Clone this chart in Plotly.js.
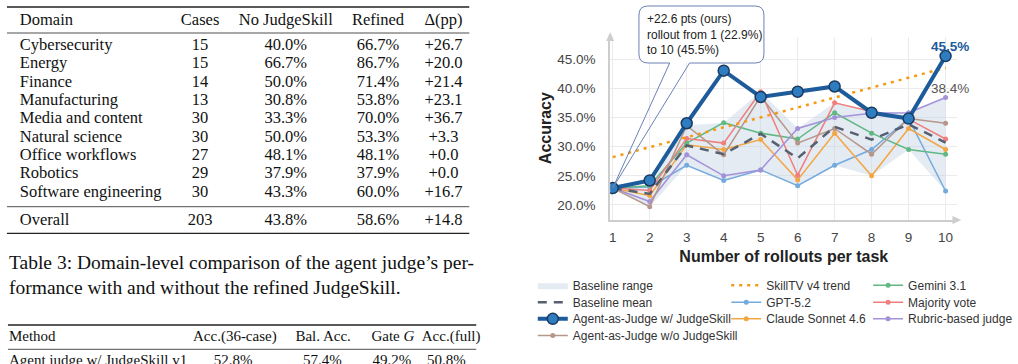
<!DOCTYPE html>
<html>
<head>
<meta charset="utf-8">
<script src="https://cdn.plot.ly/plotly-3.0.1.min.js"></script>
<style>
  html, body { margin: 0; padding: 0; background: #fff; }
  #fig { width: 1018px; height: 364px; }
</style>
</head>
<body>
<div id="fig"></div>
<script>
// ---- 차트 데이터 ----
const rollouts = [1, 2, 3, 4, 5, 6, 7, 8, 9, 10];
const oursAcc     = [22.9, 24.2, 34.0, 43.0, 38.5, 39.4, 40.3, 35.8, 34.8, 45.5];
const noSkillAcc  = [22.9, 19.7, 33.6, 28.6, 38.6, 30.6, 33.1, 28.7, 34.8, 34.0];
const gptAcc      = [22.9, 23.1, 26.8, 24.2, 26.0, 23.3, 26.8, 29.5, 34.8, 22.4];
const claudeAcc   = [22.9, 21.6, 30.3, 29.5, 31.2, 24.3, 32.3, 25.0, 33.1, 29.5];
const geminiAcc   = [22.9, 23.3, 30.6, 34.1, 32.3, 31.3, 35.8, 32.3, 29.5, 28.7];
const majorityAcc = [22.9, 22.5, 31.4, 30.6, 39.4, 25.1, 37.5, 36.0, 34.7, 31.3];
const rubricAcc   = [22.9, 20.6, 28.6, 25.0, 26.0, 33.1, 35.0, 35.7, 35.8, 38.4];
const baselineMean = [22.9, 21.9, 30.2, 28.7, 32.2, 28.0, 33.4, 31.2, 33.8, 30.7];
const baselineLow  = [22.9, 19.7, 26.8, 24.2, 26.0, 23.3, 26.8, 25.0, 29.5, 22.4];
const baselineHigh = [22.9, 23.3, 33.6, 34.1, 39.4, 33.1, 37.5, 36.0, 35.8, 38.4];
const trendX   = [1, 10];
const trendAcc = [28.2, 43.5];
const yTicks = [20, 25, 30, 35, 40, 45];

// ---- 표 데이터 ----
const table1Headers = ['Domain', 'Cases', 'No JudgeSkill', 'Refined', 'Δ(pp)'];
const domainNames = ['Cybersecurity', 'Energy', 'Finance', 'Manufacturing', 'Media and content',
  'Natural science', 'Office workflows', 'Robotics', 'Software engineering'];
const domainCases   = [15, 15, 14, 13, 30, 30, 27, 29, 30];
const domainNoSkill = [40.0, 66.7, 50.0, 30.8, 33.3, 50.0, 48.1, 37.9, 43.3];
const domainRefined = [66.7, 86.7, 71.4, 53.8, 70.0, 53.3, 48.1, 37.9, 60.0];
const domainDelta   = [26.7, 20.0, 21.4, 23.1, 36.7, 3.3, 0.0, 0.0, 16.7];
const overallRow = ['Overall', 203, 43.8, 58.6, 14.8];
const captionLines = ['Table 3: Domain-level comparison of the agent judge’s per-',
  'formance with and without the refined JudgeSkill.'];
const table2Headers = ['Method', 'Acc.(36-case)', 'Bal. Acc.', 'Gate <i>G</i>', 'Acc.(full)'];
const table2Row = ['Agent judge w/ JudgeSkill v1', 52.8, 57.4, 49.2, 50.8];

// ---- 레이아웃 상수 (픽셀) ----
const W = 1018, H = 364;
const xDom = [615 / W, 965 / W];
const yDom = [1 - 220 / H, 1 - 37 / H];
const xRange = [0.93, 10.32];
const yRange = [17.43, 48.77];
const sans = 'Liberation Sans, Arial, sans-serif';
const serif = 'Liberation Serif, Times New Roman, serif';

const pct = v => v.toFixed(1) + '%';
const px = x => x / W;
const py = y => 1 - y / H;

// 범례 칸: 항목마다 별도 범례 (열 x, 행 중심 y)
const legendCols = [537, 732, 875];
const legendRows = [285.7, 302.7, 319.3, 336];
const legendSlots = {};
let legendCount = 0;
function slot(col, row) {
  legendCount += 1;
  const id = legendCount === 1 ? 'legend' : 'legend' + legendCount;
  legendSlots[id] = { x: legendCols[col], y: legendRows[row] };
  return id;
}

// 보조 선 (기준선들)
const baseLine = (name, y, color, legend) => ({
  x: rollouts, y: y, type: 'scatter', mode: 'lines+markers', name: name,
  line: { color: color, width: 1.5 },
  marker: { color: color, size: 5 },
  legend: legend
});

const chartTraces = [
  { x: rollouts, y: baselineLow, type: 'scatter', mode: 'lines', line: { width: 0 },
    showlegend: false, hoverinfo: 'skip' },
  { x: rollouts, y: baselineHigh, type: 'scatter', mode: 'lines', fill: 'tonexty',
    fillcolor: 'rgba(196,210,228,0.45)', line: { width: 0 }, name: 'Baseline range',
    legend: slot(0, 0) },
  baseLine('GPT-5.2', gptAcc, '#74aade', slot(1, 1)),
  baseLine('Claude Sonnet 4.6', claudeAcc, '#f3a744', slot(1, 2)),
  baseLine('Gemini 3.1', geminiAcc, '#62b884', slot(2, 0)),
  baseLine('Majority vote', majorityAcc, '#ee7f7c', slot(2, 1)),
  baseLine('Rubric-based judge', rubricAcc, '#a392d8', slot(2, 2)),
  baseLine('Agent-as-Judge w/o JudgeSkill', noSkillAcc, '#b6968a', slot(0, 3)),
  { x: rollouts, y: baselineMean, type: 'scatter', mode: 'lines', name: 'Baseline mean',
    line: { color: '#576070', width: 2.5, dash: '9px,7px' }, legend: slot(0, 1) },
  { x: trendX, y: trendAcc, type: 'scatter', mode: 'lines', name: 'SkillTV v4 trend',
    line: { color: '#f59a12', width: 2.5, dash: '3px,5px' }, legend: slot(1, 0) },
  { x: rollouts, y: oursAcc, type: 'scatter', mode: 'lines+markers', name: 'Agent-as-Judge w/ JudgeSkill',
    line: { color: '#1d5b9b', width: 4 },
    marker: { color: '#2f7dc1', size: 11, line: { color: '#1a3a60', width: 1.5 } },
    legend: slot(0, 2) }
];

// ---- 표를 텍스트 트레이스로 ----
const tableTraces = [];
function textRow(xs, y, texts, aligns, size) {
  texts.forEach((t, i) => {
    tableTraces.push({
      x: [xs[i]], y: [y], text: [t], type: 'scatter', mode: 'text',
      xaxis: 'x2', yaxis: 'y2', showlegend: false, hoverinfo: 'skip', cliponaxis: true,
      textposition: aligns[i] === 'l' ? 'middle right' : 'middle center',
      textfont: { family: serif, size: size, color: '#111' }
    });
  });
}
const t1Cols = [20, 201.7, 288, 381, 447];
const t1Align = ['l', 'c', 'c', 'c', 'c'];
textRow(t1Cols, 20.7, table1Headers, t1Align, 16.5);
domainNames.forEach((d, i) => {
  textRow(t1Cols, 45.7 + i * 18.375,
    [d, String(domainCases[i]), pct(domainNoSkill[i]), pct(domainRefined[i]), '+' + domainDelta[i].toFixed(1)],
    t1Align, 16.5);
});
textRow(t1Cols, 220.5, [overallRow[0], String(overallRow[1]), pct(overallRow[2]), pct(overallRow[3]),
  '+' + overallRow[4].toFixed(1)], t1Align, 16.5);

const t2Cols = [9, 236.7, 325.7, 396, 454.7];
const t2Align = ['l', 'c', 'c', 'c', 'c'];
textRow(t2Cols, 337.7, table2Headers, t2Align, 15);
textRow([9, 235, 325, 395, 450], 361.7,
  [table2Row[0], pct(table2Row[1]), pct(table2Row[2]), pct(table2Row[3]), pct(table2Row[4])], t2Align, 15);

const rule = (y, x0, x1, w) => ({
  type: 'line', xref: 'x2', yref: 'y2', x0: x0, x1: x1, y0: y, y1: y,
  line: { color: '#222', width: w }
});

// ---- 말풍선 (꼬리 끝은 첫 번째 데이터 점) ----
const tipX = xDom[0] + (rollouts[0] - xRange[0]) / (xRange[1] - xRange[0]) * (xDom[1] - xDom[0]);
const tipY = yDom[0] + (oursAcc[0] - yRange[0]) / (yRange[1] - yRange[0]) * (yDom[1] - yDom[0]);
const bx0 = 644, bx1 = 770, by0 = 6, by1 = 63, br = 9, tail0 = 675, tail1 = 695;
const P = (x, y) => px(x) + ',' + py(y);
const bubblePath = 'M' + P(tail1, by1) + ' L' + P(bx1 - br, by1) + ' Q' + P(bx1, by1) + ' ' + P(bx1, by1 - br) +
  ' L' + P(bx1, by0 + br) + ' Q' + P(bx1, by0) + ' ' + P(bx1 - br, by0) +
  ' L' + P(bx0 + br, by0) + ' Q' + P(bx0, by0) + ' ' + P(bx0, by0 + br) +
  ' L' + P(bx0, by1 - br) + ' Q' + P(bx0, by1) + ' ' + P(bx0 + br, by1) + ' L' + P(tail0, by1);
const tailPath = 'M' + P(tail0, by1) + ' L' + tipX + ',' + tipY + ' L' + P(tail1, by1);
const gain = (oursAcc[oursAcc.length - 1] - oursAcc[0]).toFixed(1);

const shapes = [
  rule(7, 7, 473, 1.3), rule(33, 7, 473, 0.8), rule(206.7, 7, 473, 0.8), rule(233.3, 7, 473, 1.3),
  rule(325, 8, 480, 1.3), rule(349.3, 8, 480, 0.8),
  { type: 'path', xref: 'paper', yref: 'paper', path: bubblePath, fillcolor: '#fff',
    line: { color: '#6b82b6', width: 1 }, layer: 'above' },
  { type: 'path', xref: 'paper', yref: 'paper', path: tailPath, fillcolor: 'rgba(0,0,0,0)',
    line: { color: '#6b82b6', width: 1 }, layer: 'above' },
  // 축 화살표
  { type: 'path', xref: 'paper', yref: 'paper', path: 'M' + P(615, 32) + ' L' + P(611, 41) + ' L' + P(619, 41) + ' Z',
    fillcolor: '#cdcdcd', line: { width: 0 } },
  { type: 'path', xref: 'paper', yref: 'paper', path: 'M' + P(969, 220) + ' L' + P(960, 216) + ' L' + P(960, 224) + ' Z',
    fillcolor: '#cdcdcd', line: { width: 0 } }
];

const annotations = [
  { xref: 'x2', yref: 'y2', x: 7, y: 274.5, xanchor: 'left', yanchor: 'middle', align: 'left',
    showarrow: false, text: captionLines.join('<br>'), font: { family: serif, size: 19.5, color: '#111' } },
  { xref: 'paper', yref: 'paper', x: px(650), y: py(10), xanchor: 'left', yanchor: 'top', align: 'left',
    showarrow: false,
    text: '+' + gain + ' pts (ours)<br>rollout from ' + rollouts[0] + ' (' + pct(oursAcc[0]) + ')<br>to ' +
      rollouts[rollouts.length - 1] + ' (' + pct(oursAcc[oursAcc.length - 1]) + ')',
    font: { family: sans, size: 12, color: '#222' } },
  { x: 10, y: oursAcc[9], xref: 'x', yref: 'y', yshift: 10, xshift: 4, showarrow: false, yanchor: 'middle',
    text: '<b>' + pct(oursAcc[9]) + '</b>', font: { family: sans, size: 13.5, color: '#1d5b9b' } },
  { x: 10, y: rubricAcc[9], xref: 'x', yref: 'y', yshift: 9.5, xshift: 4, showarrow: false, yanchor: 'middle',
    text: pct(rubricAcc[9]), font: { family: sans, size: 13.5, color: '#555' } },
  // y축 제목
  { xref: 'paper', yref: 'paper', x: px(550), y: (yDom[0] + yDom[1]) / 2, textangle: -90, showarrow: false,
    xanchor: 'center', yanchor: 'middle', text: '<b>Accuracy</b>', font: { family: sans, size: 16, color: '#222' } }
];

const layout = {
  width: W, height: H,
  margin: { l: 0, r: 0, t: 0, b: 0 },
  paper_bgcolor: '#fff', plot_bgcolor: '#fff',
  font: { family: sans },
  xaxis: {
    domain: xDom, range: xRange, tick0: 1, dtick: 1, showgrid: true, gridcolor: '#ebebeb',
    showline: true, linecolor: '#cdcdcd', linewidth: 2, zeroline: false, ticks: '',
    ticklabelstandoff: 4, tickfont: { family: sans, size: 13.5, color: '#444' },
    title: { text: '<b>Number of rollouts per task</b>', standoff: 7, font: { family: sans, size: 16, color: '#222' } }
  },
  yaxis: {
    domain: yDom, range: yRange, tickvals: yTicks, ticktext: yTicks.map(pct),
    showgrid: true, gridcolor: '#ebebeb',
    showline: true, linecolor: '#cdcdcd', linewidth: 2, zeroline: false, ticks: '',
    ticklabelstandoff: 10, tickfont: { family: sans, size: 13.5, color: '#444' }
  },
  xaxis2: { domain: [0, 0.5], range: [0, 509], visible: false, fixedrange: true, anchor: 'y2' },
  yaxis2: { domain: [0, 1], range: [H, 0], visible: false, fixedrange: true, anchor: 'x2' },
  shapes: shapes,
  annotations: annotations
};

Object.keys(legendSlots).forEach(id => {
  const s = legendSlots[id];
  layout[id] = {
    x: px(s.x), y: py(s.y - 15), xanchor: 'left', yanchor: 'top', traceorder: 'normal',
    bgcolor: 'rgba(0,0,0,0)', borderwidth: 0, itemwidth: 30,
    font: { family: sans, size: 12, color: '#333' }
  };
});

Plotly.newPlot('fig', chartTraces.concat(tableTraces), layout, { displayModeBar: false, staticPlot: true });
</script>
</body>
</html>
